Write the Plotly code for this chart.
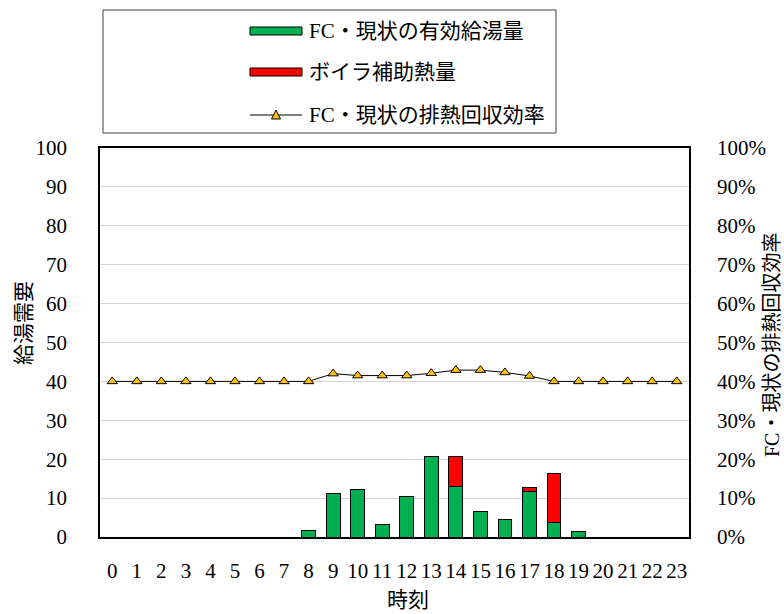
import plotly.graph_objects as go

# Hourly hot-water supply (left axis) and heat-recovery efficiency (right axis)
hours = list(range(24))
hour_labels = [str(h) for h in hours]

fc_supply = [0, 0, 0, 0, 0, 0, 0, 0, 1.6, 11.1, 12.2, 3.1,
             10.3, 20.8, 12.9, 6.6, 4.5, 11.6, 3.8, 1.4, 0, 0, 0, 0]
boiler_aux = [0, 0, 0, 0, 0, 0, 0, 0, 0, 0, 0, 0,
              0, 0, 7.7, 0, 0, 1.2, 12.5, 0, 0, 0, 0, 0]
recovery_eff = [0.40, 0.40, 0.40, 0.40, 0.40, 0.40, 0.40, 0.40, 0.40, 0.420, 0.415, 0.415,
                0.415, 0.421, 0.429, 0.429, 0.423, 0.414, 0.40, 0.40, 0.40, 0.40, 0.40, 0.40]

series_names = ["FC・現状の有効給湯量", "ボイラ補助熱量", "FC・現状の排熱回収効率"]
left_title = "給湯需要"
right_title = "FC・現状の排熱回収効率"
x_title = "時刻"

GREEN = "#00B050"
RED = "#FF0000"
GOLD = "#FFC000"
FONT = "Liberation Serif, 'Noto Sans CJK JP', serif"
FS = 21

W, H = 784, 614
L, R, T, B = 100, 689, 148, 537  # plot area in pixels


def px(x):
    return (x - L) / (R - L)


def py(y):
    return (B - y) / (B - T)


fig = go.Figure()
fig.add_trace(go.Bar(x=hours, y=fc_supply, name=series_names[0], width=0.56,
                     marker=dict(color=GREEN, line=dict(color="black", width=1))))
fig.add_trace(go.Bar(x=hours, y=boiler_aux, name=series_names[1], width=0.56,
                     marker=dict(color=RED, line=dict(color="black", width=1))))
fig.add_trace(go.Scatter(x=hours, y=recovery_eff, name=series_names[2], yaxis="y2",
                         mode="lines+markers",
                         line=dict(color="black", width=1),
                         marker=dict(symbol="triangle-up", size=9, color=GOLD,
                                     line=dict(color="black", width=1))))

shapes = [
    # legend frame
    dict(type="rect", xref="paper", yref="paper",
         x0=px(103), x1=px(556), y0=py(10), y1=py(133),
         line=dict(color="#404040", width=1), fillcolor="white", layer="above"),
    # legend swatches
    dict(type="rect", xref="paper", yref="paper",
         x0=px(250), x1=px(302), y0=py(27), y1=py(35),
         line=dict(color="black", width=1), fillcolor=GREEN, layer="above"),
    dict(type="rect", xref="paper", yref="paper",
         x0=px(250), x1=px(302), y0=py(68), y1=py(76),
         line=dict(color="black", width=1), fillcolor=RED, layer="above"),
    dict(type="line", xref="paper", yref="paper",
         x0=px(250), x1=px(302), y0=py(115), y1=py(115),
         line=dict(color="black", width=1), layer="above"),
    dict(type="path", xref="paper", yref="paper",
         path=f"M {px(271.5)} {py(119)} L {px(280.5)} {py(119)} L {px(276)} {py(110)} Z",
         line=dict(color="black", width=1), fillcolor=GOLD, layer="above"),
]

annotations = [
    dict(x=px(307), y=py(31), xref="paper", yref="paper", text=series_names[0],
         showarrow=False, xanchor="left", yanchor="middle", font=dict(size=FS)),
    dict(x=px(307), y=py(72), xref="paper", yref="paper", text=series_names[1],
         showarrow=False, xanchor="left", yanchor="middle", font=dict(size=FS)),
    dict(x=px(307), y=py(115), xref="paper", yref="paper", text=series_names[2],
         showarrow=False, xanchor="left", yanchor="middle", font=dict(size=FS)),
    dict(x=px(24), y=py(323), xref="paper", yref="paper", text=left_title,
         showarrow=False, textangle=-90, xanchor="center", yanchor="middle",
         font=dict(size=FS)),
    dict(x=px(772), y=py(345), xref="paper", yref="paper", text=right_title,
         showarrow=False, textangle=-90, xanchor="center", yanchor="middle",
         font=dict(size=20)),
    dict(x=px(408), y=py(600), xref="paper", yref="paper", text=x_title,
         showarrow=False, xanchor="center", yanchor="middle", font=dict(size=FS)),
]

fig.update_layout(
    width=W, height=H,
    margin=dict(l=L, r=W - R, t=T, b=H - B, pad=0),
    paper_bgcolor="white", plot_bgcolor="white",
    font=dict(family=FONT, size=FS, color="black"),
    barmode="stack",
    showlegend=False,
    shapes=shapes,
    annotations=annotations,
    xaxis=dict(range=[-0.5, 23.5], tickmode="array", tickvals=hours, ticktext=hour_labels,
               showline=True, linecolor="black", linewidth=1.5, mirror=True,
               showgrid=False, zeroline=False, ticks="", ticklabelstandoff=14,
               tickfont=dict(size=FS)),
    yaxis=dict(range=[0, 100], dtick=10, showline=True, linecolor="black", linewidth=1.5,
               mirror=True, showgrid=True, gridcolor="#D4D4D4", gridwidth=1,
               zeroline=False, ticks="", ticklabelstandoff=27, tickfont=dict(size=FS)),
    yaxis2=dict(range=[0, 1], dtick=0.1, tickformat=".0%", overlaying="y", side="right",
                showline=True, linecolor="black", linewidth=1.5, showgrid=False,
                zeroline=False, ticks="", ticklabelstandoff=22, tickfont=dict(size=FS)),
)

fig.write_html("out.html")
